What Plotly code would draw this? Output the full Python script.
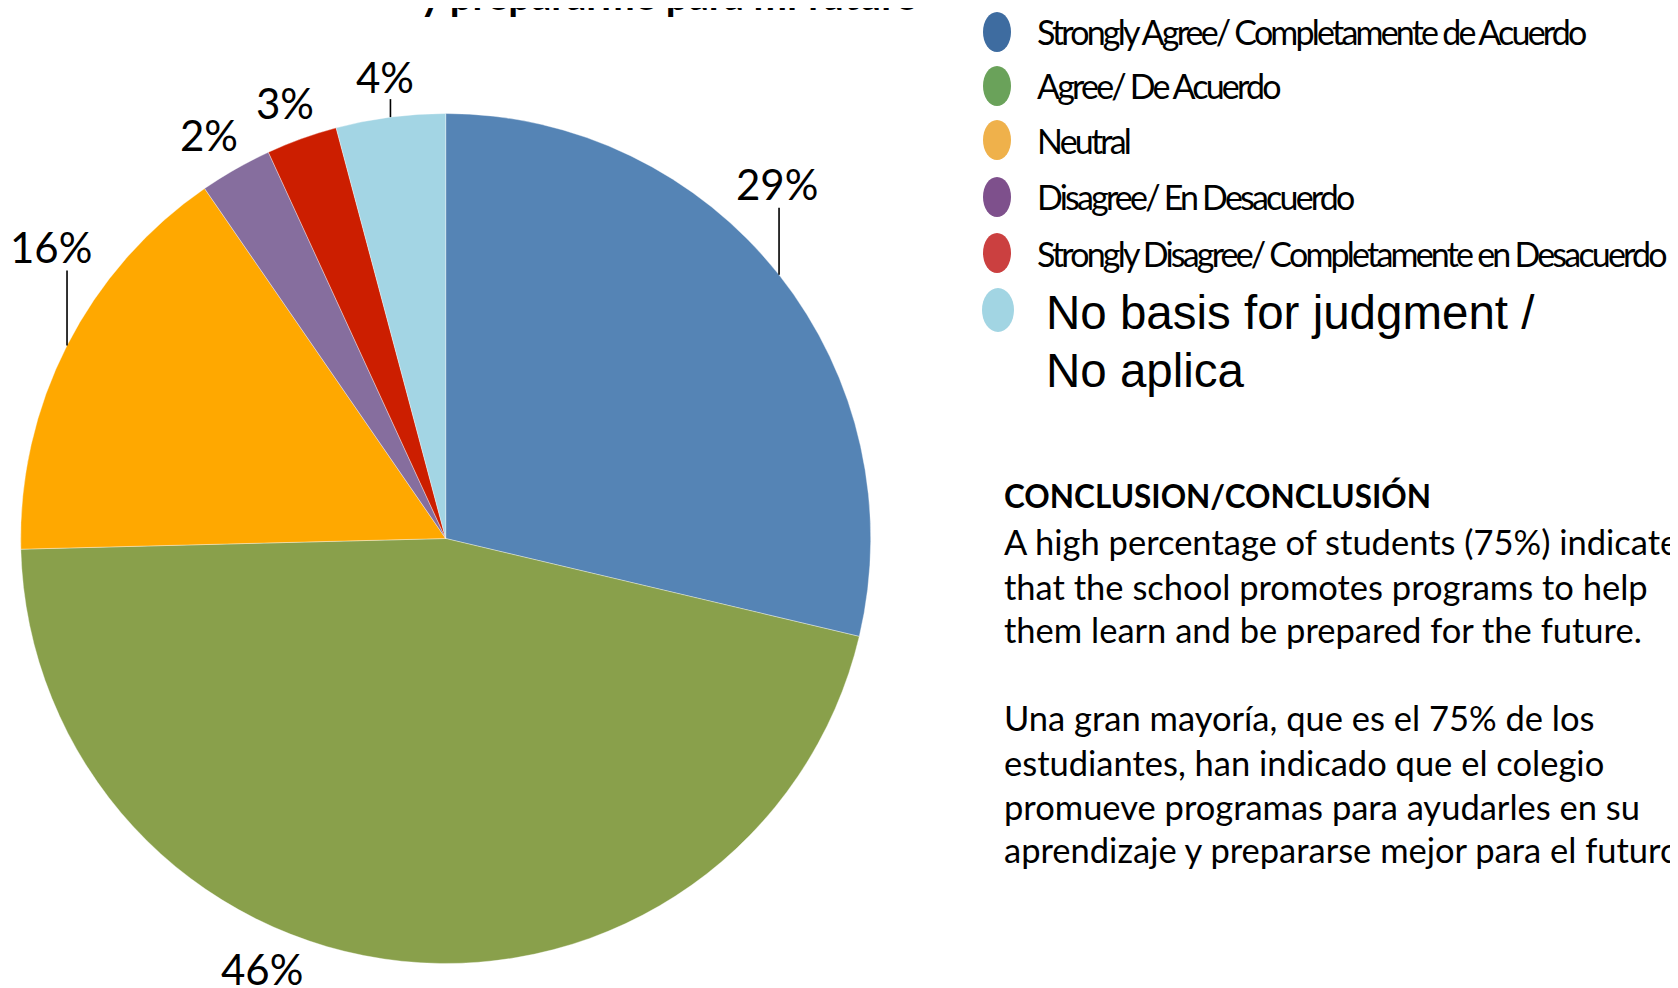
import math
import plotly.graph_objects as go

# ---------------- data ----------------
categories = [
    "Strongly Agree/ Completamente de Acuerdo",
    "Agree/ De Acuerdo",
    "Neutral",
    "Disagree/ En Desacuerdo",
    "Strongly Disagree/ Completamente en Desacuerdo",
    "No basis for judgment / No aplica",
]
values = [28.7, 45.9, 15.8, 2.75, 2.7, 4.15]
value_labels = ["29%", "46%", "16%", "2%", "3%", "4%"]
slice_colors = ["#5584B5", "#89A04B", "#FFA800", "#866E9E", "#CC1E00", "#A3D5E4"]

legend_lines = [
    "Strongly Agree/ Completamente de Acuerdo",
    "Agree/ De Acuerdo",
    "Neutral",
    "Disagree/ En Desacuerdo",
    "Strongly Disagree/ Completamente en Desacuerdo",
]
legend_last = ["No basis for judgment /", "No aplica"]
legend_colors = ["#3E6CA0", "#6AA25A", "#EFB14B", "#7E508C", "#CB4040", "#A2D5E3"]

title_text = "y prepararme para mi futuro"
conclusion_title = "CONCLUSION/CONCLUSIÓN"
conclusion_en = [
    "A high percentage of students (75%) indicated",
    "that the school promotes programs to help",
    "them learn and be prepared for the future.",
]
conclusion_es = [
    "Una gran mayoría, que es el 75% de los",
    "estudiantes, han indicado que el colegio",
    "promueve programas para ayudarles en su",
    "aprendizaje y prepararse mejor para el futuro.",
]

# ---------------- layout constants ----------------
OFF = 8                  # default page (body) margin
W, H = 1670, 980         # figure size so that page width = 1678
CX, CY, R = 445.7, 538.5, 425.0   # pie centre / radius in page pixels

# label offsets from slice edge (px) and leader-line lengths (px)
label_dx = [-2, -140, -16, -27, -17, -5]
label_dy = [-91, 8, -99, -34, -36, -40]
leader_len = [67, 0, 75, 0, 0, 18]


def X(px):
    return (px - OFF) / W


def Y(py):
    return 1 - (py - OFF) / H


fig = go.Figure()
fig.add_trace(go.Pie(
    labels=categories,
    values=values,
    sort=False,
    direction="clockwise",
    rotation=0,
    marker=dict(colors=slice_colors, line=dict(color="rgba(255,255,255,0.6)", width=0.6)),
    textinfo="none",
    hoverinfo="label+percent",
    showlegend=False,
    domain=dict(x=[X(CX - R), X(CX + R)], y=[Y(CY + R), Y(CY - R)]),
))

annotations = []
shapes = []

# value labels with leader lines, positioned from the slice mid-angles
total = sum(values)
cum = 0.0
for i, v in enumerate(values):
    theta = math.radians(360.0 * (cum + v / 2) / total)
    cum += v
    ex = CX + R * math.sin(theta)
    ey = CY - R * math.cos(theta)
    if leader_len[i] > 0:
        shapes.append(dict(type="line", xref="paper", yref="paper",
                           x0=X(ex), x1=X(ex), y0=Y(ey), y1=Y(ey - leader_len[i]),
                           line=dict(color="black", width=1.6)))
    annotations.append(dict(text=value_labels[i], xref="paper", yref="paper",
                            x=X(ex + label_dx[i]), y=Y(ey + label_dy[i]),
                            xanchor="center", yanchor="middle", showarrow=False,
                            font=dict(family="Lato, sans-serif", size=42, color="black")))

# clipped title (only its lower part is visible at the top edge)
annotations.append(dict(text="<b>" + title_text + "</b>", xref="paper", yref="paper",
                        x=X(669), y=Y(-5), xanchor="center", yanchor="middle", showarrow=False,
                        font=dict(family="Lato, sans-serif", size=40, color="black")))

# custom legend
row_y = [32, 86, 140, 197, 253]
legend_font = dict(family="Lato, sans-serif", size=34, color="black")
for i, t in enumerate(legend_lines):
    shapes.append(dict(type="circle", xref="paper", yref="paper",
                       x0=X(983), x1=X(1011), y0=Y(row_y[i] + 20), y1=Y(row_y[i] - 20),
                       fillcolor=legend_colors[i], line=dict(width=0)))
    annotations.append(dict(text='<span style="letter-spacing:-2.8px">' + t + "</span>",
                            xref="paper", yref="paper", x=X(1035), y=Y(row_y[i]),
                            xanchor="left", yanchor="middle", showarrow=False, font=legend_font))
shapes.append(dict(type="circle", xref="paper", yref="paper",
                   x0=X(982), x1=X(1014), y0=Y(310 + 22), y1=Y(310 - 22),
                   fillcolor=legend_colors[5], line=dict(width=0)))
for j, t in enumerate(legend_last):
    annotations.append(dict(text=t, xref="paper", yref="paper", x=X(1044), y=Y([312.5, 370][j]),
                            xanchor="left", yanchor="middle", showarrow=False,
                            font=dict(family="Liberation Sans, Arial, sans-serif", size=47.5, color="black")))

# conclusion text
body_font = dict(family="Lato, sans-serif", size=34.5, color="black")
annotations.append(dict(text="<b>" + conclusion_title + "</b>", xref="paper", yref="paper",
                        x=X(1002), y=Y(495.5), xanchor="left", yanchor="middle", showarrow=False,
                        font=dict(family="Lato, sans-serif", size=31.5, color="black")))
en_y = [541.5, 586.5, 629]
es_y = [717, 762, 806, 849]
for t, yy in zip(conclusion_en, en_y):
    annotations.append(dict(text=t, xref="paper", yref="paper", x=X(1002), y=Y(yy),
                            xanchor="left", yanchor="middle", showarrow=False, font=body_font))
for t, yy in zip(conclusion_es, es_y):
    annotations.append(dict(text=t, xref="paper", yref="paper", x=X(1002), y=Y(yy),
                            xanchor="left", yanchor="middle", showarrow=False, font=body_font))

fig.update_layout(
    width=W, height=H,
    margin=dict(l=0, r=0, t=0, b=0),
    paper_bgcolor="white", plot_bgcolor="white",
    annotations=annotations, shapes=shapes,
    showlegend=False,
)

fig.write_html("out.html")
